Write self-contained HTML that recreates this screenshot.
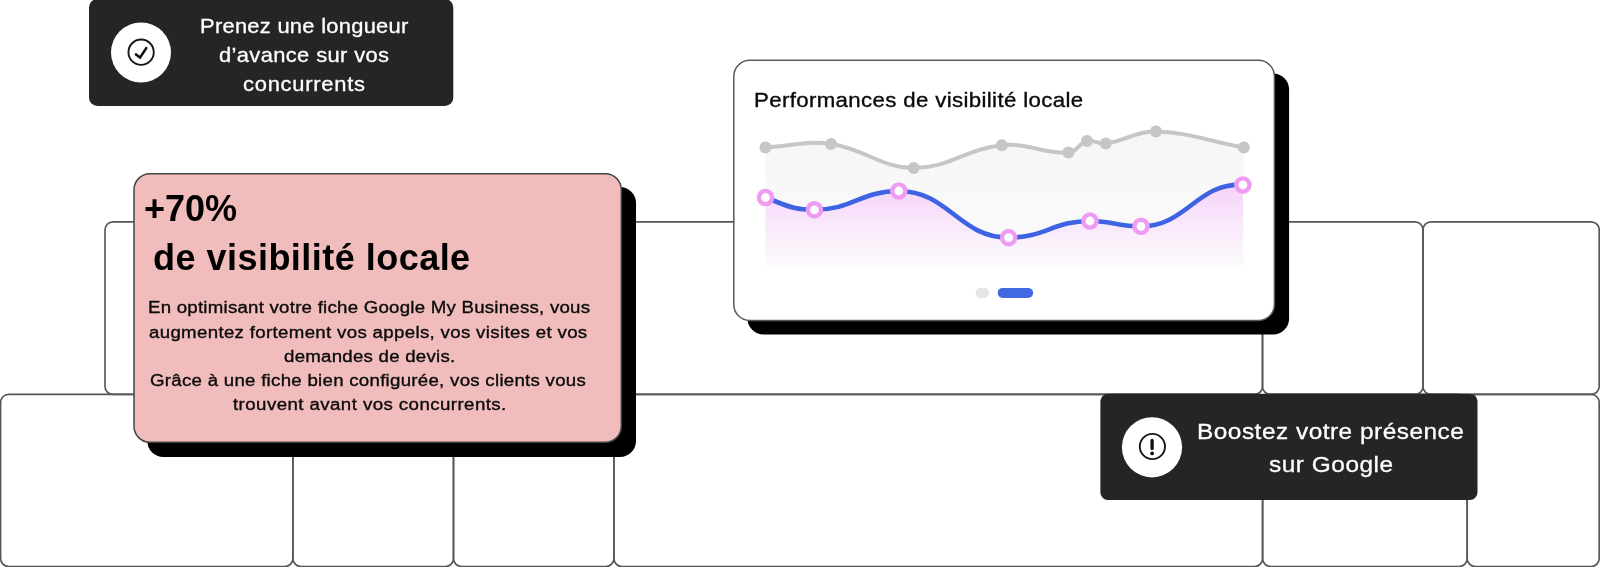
<!DOCTYPE html>
<html><head><meta charset="utf-8"><style>
html,body{margin:0;padding:0;}
body{width:1600px;height:567px;overflow:hidden;background:#fff;position:relative;font-family:"Liberation Sans", sans-serif;}
.t{position:absolute;white-space:nowrap;transform-origin:0 0;will-change:transform;}
</style></head><body>
<svg width="1600" height="567" viewBox="0 0 1600 567" style="position:absolute;left:0;top:0">
<defs>
<linearGradient id="pg" x1="0" y1="182" x2="0" y2="266.5" gradientUnits="userSpaceOnUse">
<stop offset="0" stop-color="#f5d0f8"/><stop offset="0.45" stop-color="#f9e6fb"/><stop offset="1" stop-color="#fcfbfc"/>
</linearGradient>
<linearGradient id="gg" x1="0" y1="131" x2="0" y2="266.5" gradientUnits="userSpaceOnUse">
<stop offset="0" stop-color="#f6f6f6"/><stop offset="1" stop-color="#fbfbfb"/>
</linearGradient>
</defs>
<rect x="105" y="221.8" width="1157.50" height="172.60" rx="8" fill="none" stroke="#575757" stroke-width="1.65"/><rect x="1262.5" y="221.8" width="160.50" height="172.60" rx="8" fill="none" stroke="#575757" stroke-width="1.65"/><rect x="1423" y="221.8" width="176.20" height="172.60" rx="8" fill="none" stroke="#575757" stroke-width="1.65"/><rect x="0.6" y="394.4" width="292.30" height="172.10" rx="8" fill="none" stroke="#575757" stroke-width="1.65"/><rect x="292.9" y="394.4" width="160.60" height="172.10" rx="8" fill="none" stroke="#575757" stroke-width="1.65"/><rect x="453.5" y="394.4" width="160.40" height="172.10" rx="8" fill="none" stroke="#575757" stroke-width="1.65"/><rect x="613.9" y="394.4" width="648.70" height="172.10" rx="8" fill="none" stroke="#575757" stroke-width="1.65"/><rect x="1262.6" y="394.4" width="204.60" height="172.10" rx="8" fill="none" stroke="#575757" stroke-width="1.65"/><rect x="1467.2" y="394.4" width="132.00" height="172.10" rx="8" fill="none" stroke="#575757" stroke-width="1.65"/>
<!-- dark box 1 -->
<rect x="89" y="-1" width="364.3" height="107" rx="8.5" fill="#252525"/>
<circle cx="141" cy="52.5" r="30" fill="#fff"/>
<circle cx="141.1" cy="52.2" r="12.65" fill="none" stroke="#161616" stroke-width="1.9"/>
<path d="M136.0,54.4 L140.0,57.6 L146.3,48.1" fill="none" stroke="#111" stroke-width="2.6" stroke-linecap="round" stroke-linejoin="round"/>
<!-- pink card -->
<rect x="147.3" y="187" width="488.7" height="270" rx="16" fill="#000"/>
<rect x="134" y="173.7" width="487.3" height="268.6" rx="16" fill="#f1bcbc" stroke="#454545" stroke-width="1.5"/>
<!-- chart card -->
<rect x="747.5" y="73.5" width="541.6" height="261" rx="16" fill="#000"/>
<rect x="733.8" y="60.3" width="540.6" height="260.1" rx="16" fill="#fff" stroke="#5a5a5a" stroke-width="1.5"/>
<path d="M765.50,147.40 C791.70,146.04 805.37,140.44 831.00,144.00 C864.65,148.68 880.48,167.77 913.70,168.00 C948.80,168.25 966.16,148.75 1001.80,145.20 C1028.04,142.59 1042.74,153.90 1068.40,152.60 C1076.82,152.18 1078.98,142.83 1087.00,140.90 C1093.94,139.23 1098.38,144.60 1105.80,143.60 C1125.94,140.88 1135.71,131.03 1155.90,131.60 C1190.91,132.59 1208.64,141.14 1243.80,147.50 L1243.8,266.5 L765.5,266.5 Z" fill="url(#gg)"/>
<path d="M765.50,197.50 C787.50,205.80 792.39,209.80 814.40,209.80 C852.38,209.80 860.82,191.00 898.80,191.00 C948.21,191.00 959.19,237.60 1008.60,237.60 C1045.23,237.60 1053.37,221.00 1090.00,221.00 C1112.95,221.00 1118.05,226.30 1141.00,226.30 C1186.86,226.30 1197.05,182.25 1242.90,185.00 L1242.9,266.5 L765.5,266.5 Z" fill="url(#pg)"/>
<path d="M765.50,147.40 C791.70,146.04 805.37,140.44 831.00,144.00 C864.65,148.68 880.48,167.77 913.70,168.00 C948.80,168.25 966.16,148.75 1001.80,145.20 C1028.04,142.59 1042.74,153.90 1068.40,152.60 C1076.82,152.18 1078.98,142.83 1087.00,140.90 C1093.94,139.23 1098.38,144.60 1105.80,143.60 C1125.94,140.88 1135.71,131.03 1155.90,131.60 C1190.91,132.59 1208.64,141.14 1243.80,147.50" fill="none" stroke="#c6c6c6" stroke-width="4"/>
<circle cx="765.5" cy="147.4" r="6" fill="#c6c6c6"/><circle cx="831" cy="144" r="6" fill="#c6c6c6"/><circle cx="913.7" cy="168" r="6" fill="#c6c6c6"/><circle cx="1001.8" cy="145.2" r="6" fill="#c6c6c6"/><circle cx="1068.4" cy="152.6" r="6" fill="#c6c6c6"/><circle cx="1087" cy="140.9" r="6" fill="#c6c6c6"/><circle cx="1105.8" cy="143.6" r="6" fill="#c6c6c6"/><circle cx="1155.9" cy="131.6" r="6" fill="#c6c6c6"/><circle cx="1243.8" cy="147.5" r="6" fill="#c6c6c6"/>
<path d="M765.50,197.50 C787.50,205.80 792.39,209.80 814.40,209.80 C852.38,209.80 860.82,191.00 898.80,191.00 C948.21,191.00 959.19,237.60 1008.60,237.60 C1045.23,237.60 1053.37,221.00 1090.00,221.00 C1112.95,221.00 1118.05,226.30 1141.00,226.30 C1186.86,226.30 1197.05,182.25 1242.90,185.00" fill="none" stroke="#3d63e2" stroke-width="4.6"/>
<circle cx="765.5" cy="197.5" r="6.6" fill="#fff" stroke="#ee9cf2" stroke-width="4.4"/><circle cx="814.4" cy="209.8" r="6.6" fill="#fff" stroke="#ee9cf2" stroke-width="4.4"/><circle cx="898.8" cy="191.0" r="6.6" fill="#fff" stroke="#ee9cf2" stroke-width="4.4"/><circle cx="1008.6" cy="237.6" r="6.6" fill="#fff" stroke="#ee9cf2" stroke-width="4.4"/><circle cx="1090" cy="221" r="6.6" fill="#fff" stroke="#ee9cf2" stroke-width="4.4"/><circle cx="1141" cy="226.3" r="6.6" fill="#fff" stroke="#ee9cf2" stroke-width="4.4"/><circle cx="1242.9" cy="185" r="6.6" fill="#fff" stroke="#ee9cf2" stroke-width="4.4"/>
<rect x="975.7" y="287.9" width="13.3" height="10.1" rx="5" fill="#e5e5e5"/>
<rect x="997.7" y="287.9" width="35.4" height="10.1" rx="5" fill="#4169e1"/>
<!-- dark box 2 -->
<rect x="1100.4" y="393.7" width="377.1" height="106.3" rx="7.5" fill="#252525"/>
<circle cx="1152" cy="447.3" r="30.1" fill="#fff"/>
<circle cx="1152.4" cy="446.5" r="12.6" fill="none" stroke="#161616" stroke-width="1.9"/>
<line x1="1152.1" y1="440.3" x2="1152.1" y2="448.6" stroke="#111" stroke-width="3.3" stroke-linecap="round"/>
<circle cx="1152.1" cy="453.4" r="1.9" fill="#111"/>
</svg>
<!-- texts -->
<div class="t" style="left:199.82px;top:11.14px;font-size:20.3px;line-height:30.45px;font-weight:400;color:#fff;letter-spacing:0.254px;-webkit-text-stroke:0.3px #fff;transform:scaleX(1.08);">Prenez une longueur</div>
<div class="t" style="left:218.72px;top:40.14px;font-size:20.3px;line-height:30.45px;font-weight:400;color:#fff;letter-spacing:0.347px;-webkit-text-stroke:0.3px #fff;transform:scaleX(1.08);">d’avance sur vos</div>
<div class="t" style="left:243.32px;top:69.44px;font-size:20.3px;line-height:30.45px;font-weight:400;color:#fff;letter-spacing:0.693px;-webkit-text-stroke:0.3px #fff;transform:scaleX(1.08);">concurrents</div>
<div class="t" style="left:144.3px;top:181.83px;font-size:36px;line-height:54.0px;font-weight:700;color:#000;letter-spacing:0.0px;">+70%</div>
<div class="t" style="left:153.4px;top:231.13px;font-size:36px;line-height:54.0px;font-weight:700;color:#000;letter-spacing:0.474px;">de visibilité locale</div>
<div class="t" style="left:147.62px;top:295.23px;font-size:17.3px;line-height:25.95px;font-weight:400;color:#0a0a0a;letter-spacing:0.218px;-webkit-text-stroke:0.35px #0a0a0a;transform:scaleX(1.08);">En optimisant votre fiche Google My Business, vous</div>
<div class="t" style="left:149.22px;top:319.73px;font-size:17.3px;line-height:25.95px;font-weight:400;color:#0a0a0a;letter-spacing:0.302px;-webkit-text-stroke:0.35px #0a0a0a;transform:scaleX(1.08);">augmentez fortement vos appels, vos visites et vos</div>
<div class="t" style="left:284.0px;top:344.13px;font-size:17.3px;line-height:25.95px;font-weight:400;color:#0a0a0a;letter-spacing:0.227px;-webkit-text-stroke:0.35px #0a0a0a;transform:scaleX(1.08);">demandes de devis.</div>
<div class="t" style="left:149.92px;top:367.93px;font-size:17.3px;line-height:25.95px;font-weight:400;color:#0a0a0a;letter-spacing:0.252px;-webkit-text-stroke:0.35px #0a0a0a;transform:scaleX(1.08);">Grâce à une fiche bien configurée, vos clients vous</div>
<div class="t" style="left:232.8px;top:392.43px;font-size:17.3px;line-height:25.95px;font-weight:400;color:#0a0a0a;letter-spacing:0.398px;-webkit-text-stroke:0.35px #0a0a0a;transform:scaleX(1.08);">trouvent avant vos concurrents.</div>
<div class="t" style="left:753.82px;top:84.51px;font-size:20.6px;line-height:30.9px;font-weight:400;color:#0a0a0a;letter-spacing:0.33px;-webkit-text-stroke:0.35px #0a0a0a;transform:scaleX(1.08);">Performances de visibilité locale</div>
<div class="t" style="left:1196.59px;top:414.72px;font-size:22.6px;line-height:33.9px;font-weight:400;color:#fff;letter-spacing:0.461px;-webkit-text-stroke:0.3px #fff;transform:scaleX(1.08);">Boostez votre présence</div>
<div class="t" style="left:1268.52px;top:447.72px;font-size:22.6px;line-height:33.9px;font-weight:400;color:#fff;letter-spacing:0.492px;-webkit-text-stroke:0.3px #fff;transform:scaleX(1.08);">sur Google</div>
</body></html>
